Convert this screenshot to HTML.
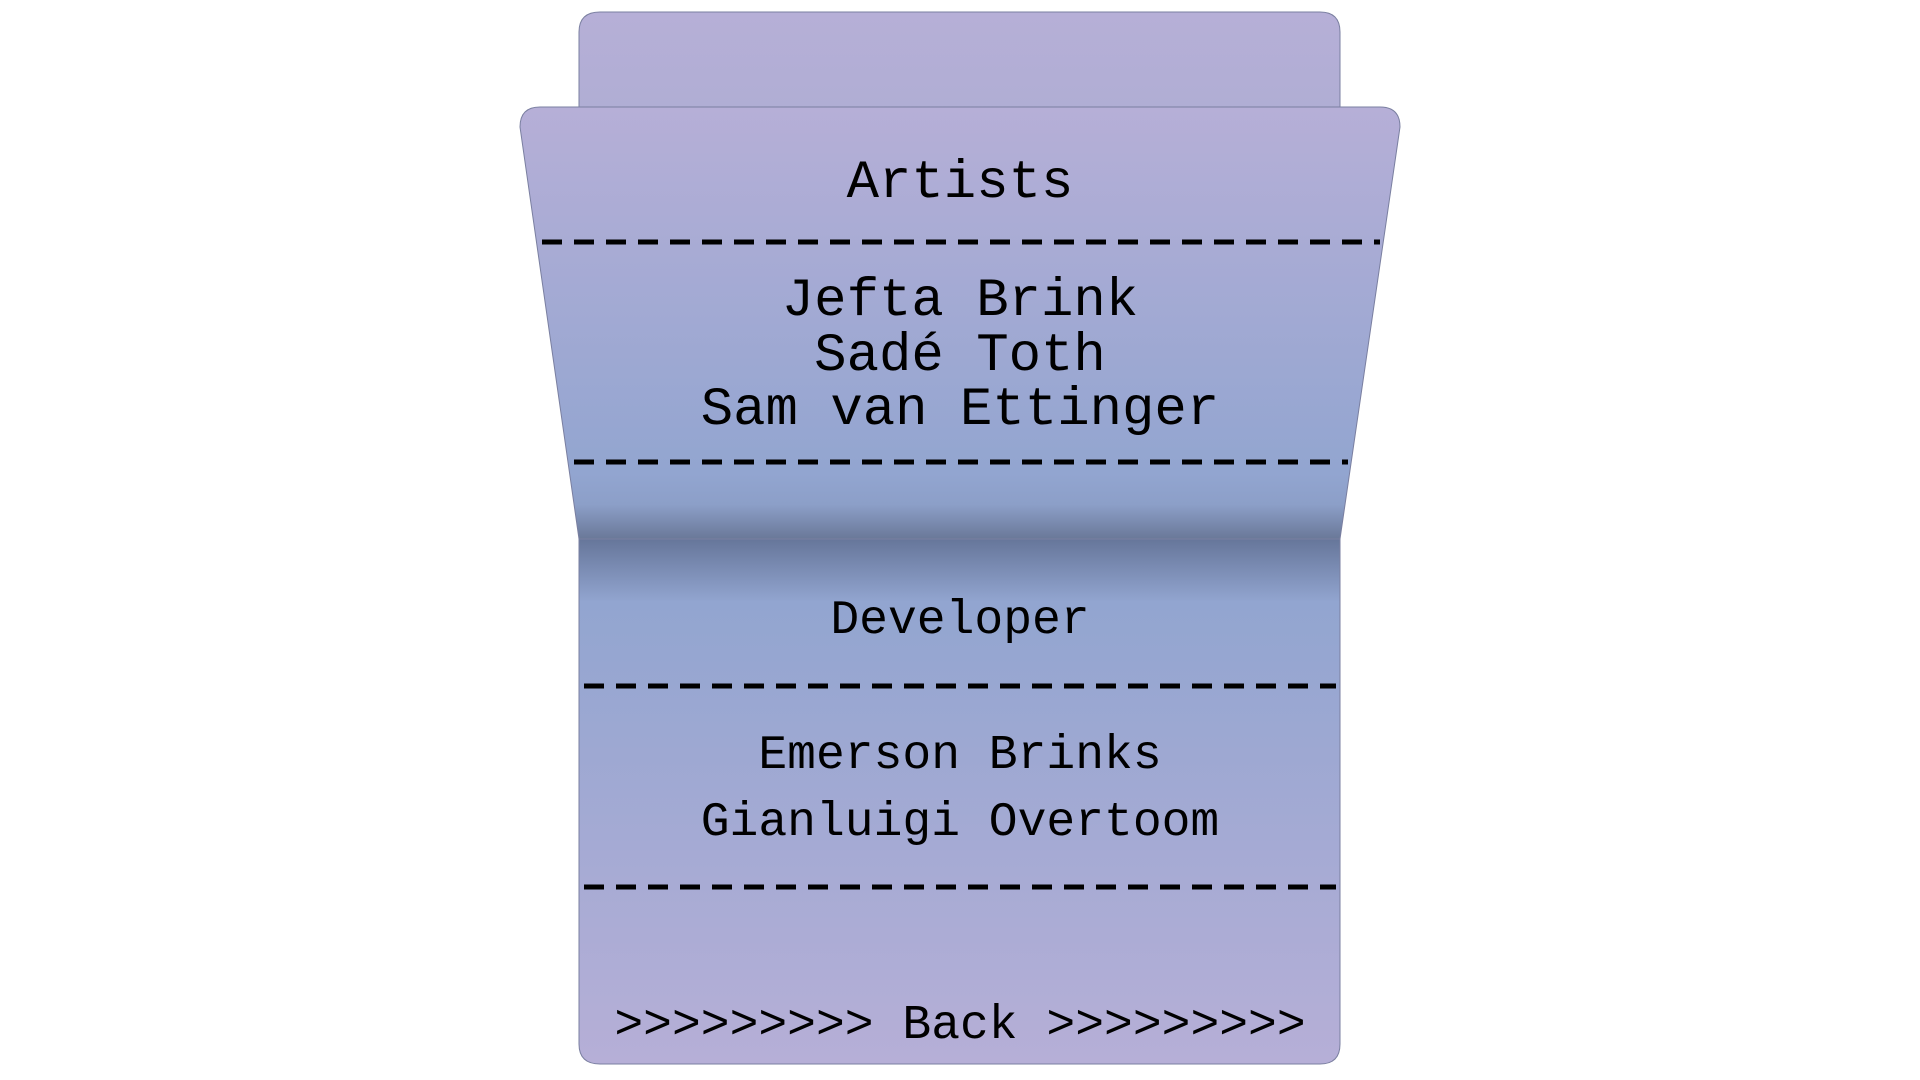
<!DOCTYPE html>
<html><head><meta charset="utf-8"><style>
html,body{margin:0;padding:0;background:#fff;}
svg{display:block}
text{font-family:"Liberation Mono",monospace;fill:#000;text-anchor:middle}
</style></head><body>
<svg width="1920" height="1080" viewBox="0 0 1920 1080">
<defs>
<linearGradient id="tab" x1="0" y1="0" x2="0" y2="1">
<stop offset="0" stop-color="#b6afd7"/><stop offset="1" stop-color="#b0aed4"/>
</linearGradient>
<linearGradient id="front" x1="0" y1="107" x2="0" y2="539" gradientUnits="userSpaceOnUse">
<stop offset="0" stop-color="#b6afd7"/>
<stop offset="0.85" stop-color="#92a5d0"/>
<stop offset="0.92" stop-color="#8c9fc8"/>
<stop offset="1" stop-color="#6a7898"/>
</linearGradient>
<linearGradient id="back" x1="0" y1="539" x2="0" y2="1064" gradientUnits="userSpaceOnUse">
<stop offset="0" stop-color="#66769a"/>
<stop offset="0.12" stop-color="#92a5d0"/>
<stop offset="1" stop-color="#b6afd7"/>
</linearGradient>
</defs>
<path d="M579,32 Q579,12 600,12 L1320,12 Q1340,12 1340,32 L1340,110 L579,110 Z" fill="url(#tab)" stroke="#7a7fa0" stroke-width="1"/>
<path d="M579,539 L1340,539 L1340,1044 Q1340,1064 1320,1064 L600,1064 Q579,1064 579,1044 Z" fill="url(#back)" stroke="#7a7fa0" stroke-width="1"/>
<path d="M540,107 L1380,107 Q1400,107 1400,127 L1340,539 L579,539 L520,127 Q520,107 540,107 Z" fill="url(#front)" stroke="#7a7fa0" stroke-width="1"/>
<g stroke="#000" stroke-width="5" stroke-dasharray="20 12">
<line x1="542" y1="242" x2="1380" y2="242"/>
<line x1="574" y1="462" x2="1348" y2="462"/>
<line x1="584" y1="686" x2="1336" y2="686"/>
<line x1="584" y1="887" x2="1336" y2="887"/>
</g>
<text x="960" y="197" font-size="54">Artists</text>
<text x="960" y="315" font-size="54">Jefta Brink</text>
<text x="960" y="370" font-size="54">Sadé Toth</text>
<text x="960" y="424" font-size="54">Sam van Ettinger</text>
<text x="960" y="633" font-size="48">Developer</text>
<text x="960" y="768" font-size="48">Emerson Brinks</text>
<text x="960" y="835" font-size="48">Gianluigi Overtoom</text>
<text x="960" y="1038" font-size="48">&gt;&gt;&gt;&gt;&gt;&gt;&gt;&gt;&gt; Back &gt;&gt;&gt;&gt;&gt;&gt;&gt;&gt;&gt;</text>
</svg>
</body></html>
